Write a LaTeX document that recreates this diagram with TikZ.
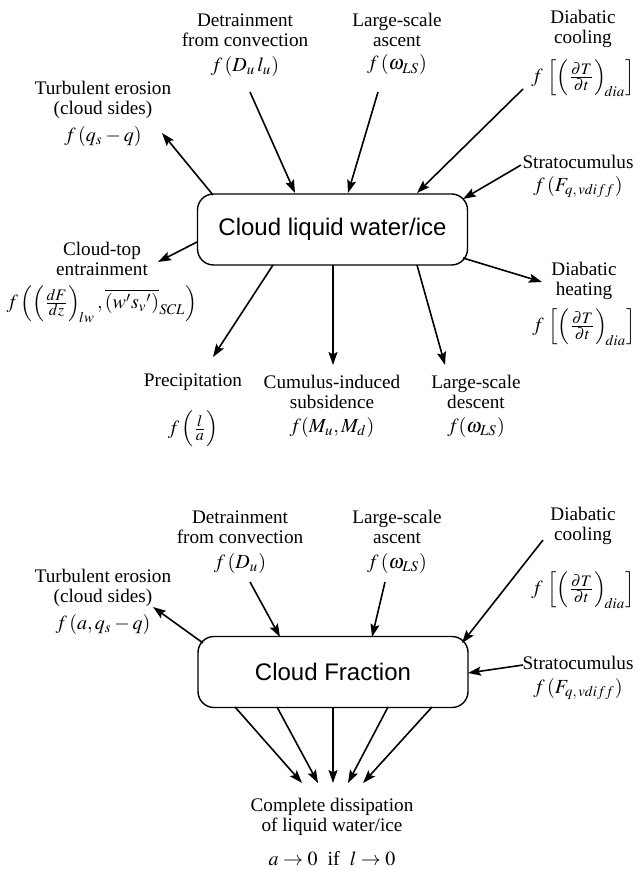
\documentclass[tikz,border=0pt]{standalone}
\usepackage{mathptmx}
\usepackage[no-math]{fontspec}
\setmainfont{Liberation Serif}
\newfontfamily\serifont{Liberation Serif}
\newfontfamily\boxfont{Liberation Sans}
\usetikzlibrary{arrows.meta}
\tikzset{
 lbl/.style={align=center, inner sep=0pt, font=\serifont\fontsize{9.6}{10}\selectfont},
 frm/.style={inner sep=0pt, font=\serifont\fontsize{10}{10}\selectfont},
 cbox/.style={draw, line width=0.7pt, rounded corners=8pt, minimum width=135pt, minimum height=35.5pt, inner sep=0pt, font=\boxfont\fontsize{12}{14}\selectfont},
 arr/.style={line width=0.8pt, -{Stealth[length=6.5pt,width=4.5pt,inset=1.2pt]}},
}
\newcommand{\myfr}[2]{\frac{\mbox{\fontsize{8}{8}\selectfont$#1$}}{\mbox{\fontsize{8}{8}\selectfont$#2$}}}
\newcommand{\myDT}{\left[\left(\myfr{\partial T}{\partial t}\right)_{\!dia}\right]}
\begin{document}
\begin{tikzpicture}[x=0.5pt,y=-0.5pt]
\useasboundingbox (0,0) rectangle (637,870);
% ---------- top diagram ----------
\node[cbox] (A) at (332.5,229.5) {Cloud liquid water/ice};
\node[lbl] (te1) at (103,100) {Turbulent erosion\\(cloud sides)};
\node[frm] (te1f) at (103,137) {$f\,(q_s-q)$};
\node[lbl] (dc1) at (245,30) {Detrainment\\from convection};
\node[frm] (dc1f) at (245,67) {$f\,(D_u\,l_u)$};
\node[lbl] (la1) at (397,30) {Large-scale\\ascent};
\node[frm] (la1f) at (397,65) {$f\,(\omega_{LS})$};
\node[lbl] (co1) at (583,29) {Diabatic\\cooling};
\node[frm] (co1f) at (583,78) {$f\,\myDT$};
\node[lbl] (st1) at (578,162) {Stratocumulus};
\node[frm] (st1f) at (578,187) {$f\,(F_{q,\,vdiff})$};
\node[lbl] (ct1) at (102,259) {Cloud-top\\entrainment};
\node[frm] (ct1f) at (102,304) {$f\left(\left(\myfr{dF}{dz}\right)_{\!lw},\overline{(w's_v{}')}_{SCL}\right)$};
\node[lbl] (dh1) at (584,281) {Diabatic\\heating};
\node[frm] (dh1f) at (584,327) {$f\,\myDT$};
\node[lbl] (pr1) at (193,382) {Precipitation};
\node[frm] (pr1f) at (193,429) {$f\left(\myfr{l}{a}\right)$};
\node[lbl] (cu1) at (332,392) {Cumulus-induced\\subsidence};
\node[frm] (cu1f) at (332,427) {$f(M_u,M_d)$};
\node[lbl] (ld1) at (476,392) {Large-scale\\descent};
\node[frm] (ld1f) at (476,427) {$f(\omega_{LS})$};
% arrow end points (top)
\coordinate (p1a) at (213,195); \coordinate (p1b) at (162,133);
\coordinate (p2a) at (250,92);  \coordinate (p2b) at (295,193);
\coordinate (p3a) at (378,92);  \coordinate (p3b) at (348,193);
\coordinate (p4a) at (523,89);  \coordinate (p4b) at (417,193);
\coordinate (p5a) at (521,165); \coordinate (p5b) at (463,199);
\coordinate (p6a) at (197,242); \coordinate (p6b) at (158,262);
\coordinate (p7a) at (463,258); \coordinate (p7b) at (542,282);
\coordinate (p8a) at (273,265); \coordinate (p8b) at (213,357);
\coordinate (p9a) at (333,265); \coordinate (p9b) at (333,365);
\coordinate (p10a) at (417,265); \coordinate (p10b) at (445,365);
\draw[arr] (p1a) -- (p1b);
\draw[arr] (p2a) -- (p2b);
\draw[arr] (p3a) -- (p3b);
\draw[arr] (p4a) -- (p4b);
\draw[arr] (p5a) -- (p5b);
\draw[arr] (p6a) -- (p6b);
\draw[arr] (p7a) -- (p7b);
\draw[arr] (p8a) -- (p8b);
\draw[arr] (p9a) -- (p9b);
\draw[arr] (p10a) -- (p10b);
% ---------- bottom diagram ----------
\node[cbox] (B) at (333,672) {Cloud Fraction};
\node[lbl] (te2) at (103,588) {Turbulent erosion\\(cloud sides)};
\node[frm] (te2f) at (103,624) {$f\,(a,q_s-q)$};
\node[lbl] (dc2) at (240,527) {Detrainment\\from convection};
\node[frm] (dc2f) at (240,563) {$f\,(D_u)$};
\node[lbl] (la2) at (397,527) {Large-scale\\ascent};
\node[frm] (la2f) at (397,563) {$f\,(\omega_{LS})$};
\node[lbl] (co2) at (583,526) {Diabatic\\cooling};
\node[frm] (co2f) at (583,590) {$f\,\myDT$};
\node[lbl] (st2) at (578,663) {Stratocumulus};
\node[frm] (st2f) at (578,689) {$f\,(F_{q,\,vdiff})$};
\node[lbl] (cd) at (332,817) {Complete dissipation\\of liquid water/ice};
\node[frm] (cdf) at (332,859) {$a\rightarrow0$\ \ if\ \ $l\rightarrow0$};
\coordinate (q1a) at (203,643); \coordinate (q1b) at (153,607);
\coordinate (q2a) at (250,582); \coordinate (q2b) at (280,637);
\coordinate (q3a) at (385,582); \coordinate (q3b) at (372,637);
\coordinate (q4a) at (543,540); \coordinate (q4b) at (462,643);
\coordinate (q5a) at (523,665); \coordinate (q5b) at (468,673);
\coordinate (r1a) at (235,707); \coordinate (r1b) at (302,783);
\coordinate (r2a) at (277,707); \coordinate (r2b) at (318,783);
\coordinate (r3a) at (333,707); \coordinate (r3b) at (333,783);
\coordinate (r4a) at (388,707); \coordinate (r4b) at (348,783);
\coordinate (r5a) at (432,707); \coordinate (r5b) at (363,783);
\draw[arr] (q1a) -- (q1b);
\draw[arr] (q2a) -- (q2b);
\draw[arr] (q3a) -- (q3b);
\draw[arr] (q4a) -- (q4b);
\draw[arr] (q5a) -- (q5b);
\draw[arr] (r1a) -- (r1b);
\draw[arr] (r2a) -- (r2b);
\draw[arr] (r3a) -- (r3b);
\draw[arr] (r4a) -- (r4b);
\draw[arr] (r5a) -- (r5b);
\end{tikzpicture}
\end{document}
